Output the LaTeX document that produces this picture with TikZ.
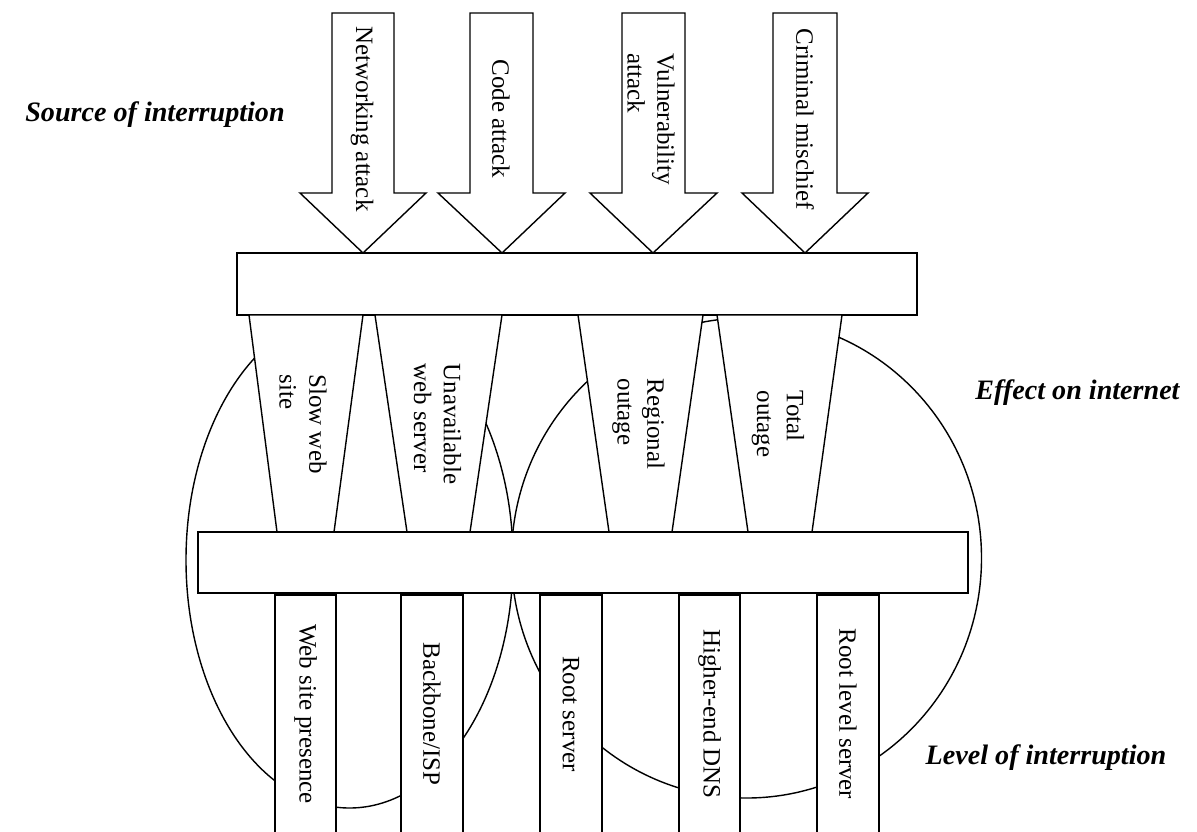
\documentclass[tikz,border=0pt]{standalone}
\usepackage{fontspec}
\setmainfont{Liberation Serif}
\tikzset{
  block/.style={draw, fill=white, line width=0.8pt},
  vtext/.style={rotate=-90, align=left, inner sep=0pt, font=\fontsize{14.2}{17}\selectfont},
  tag/.style={font=\fontsize{16}{19}\selectfont\bfseries\itshape},
}
\begin{document}
\begin{tikzpicture}
  \useasboundingbox (0,0) rectangle (23.94,-16.62);
  \clip (0,0) rectangle (23.94,-16.62);

  % the two areas behind everything
  \draw[line width=0.8pt] (6.99,-11.2) ellipse (3.27 and 4.96);
  \draw[line width=0.8pt] (14.93,-11.16) ellipse (4.70 and 4.80);

  % sources
  \draw[block] (6.64,-0.26) -- (7.88,-0.26) -- (7.88,-3.86) -- (8.52,-3.86) -- (7.26,-5.06) -- (6.00,-3.86) -- (6.64,-3.86) -- cycle;
  \node[vtext] (net) at (7.24,-2.38) {Networking attack};
  \draw[block] (9.40,-0.26) -- (10.66,-0.26) -- (10.66,-3.86) -- (11.30,-3.86) -- (10.04,-5.06) -- (8.76,-3.86) -- (9.40,-3.86) -- cycle;
  \node[vtext] (code) at (10.02,-2.38) {Code attack};
  \draw[block] (12.44,-0.26) -- (13.70,-0.26) -- (13.70,-3.86) -- (14.34,-3.86) -- (13.06,-5.06) -- (11.80,-3.86) -- (12.44,-3.86) -- cycle;
  \node[vtext] (vuln) at (13.02,-2.38) {Vulnerability\\attack};
  \draw[block] (15.46,-0.26) -- (16.74,-0.26) -- (16.74,-3.86) -- (17.36,-3.86) -- (16.10,-5.06) -- (14.84,-3.86) -- (15.46,-3.86) -- cycle;
  \node[vtext] (crim) at (16.10,-2.38) {Criminal mischief};

  \draw[block] (4.74,-5.06) rectangle (18.34,-6.30);

  % effects
  \draw[block] (4.98,-6.30) -- (7.26,-6.30) -- (6.68,-10.64) -- (5.54,-10.64) -- cycle;
  \node[vtext] (slow) at (6.06,-8.48) {Slow web\\site};
  \draw[block] (7.50,-6.30) -- (10.04,-6.30) -- (9.40,-10.64) -- (8.14,-10.64) -- cycle;
  \node[vtext] (unav) at (8.75,-8.48) {Unavailable\\web server};
  \draw[block] (11.56,-6.30) -- (14.06,-6.30) -- (13.44,-10.64) -- (12.18,-10.64) -- cycle;
  \node[vtext] (region) at (12.77,-8.48) {Regional\\outage};
  \draw[block] (14.34,-6.30) -- (16.84,-6.30) -- (16.24,-10.64) -- (14.96,-10.64) -- cycle;
  \node[vtext] (total) at (15.56,-8.48) {Total\\outage};

  \draw[block] (3.96,-10.64) rectangle (19.36,-11.86);

  % levels
  \draw[block] (5.50,-17.0) rectangle (6.72,-11.90);
  \node[vtext] (presence) at (6.11,-14.28) {Web site presence};
  \draw[block] (8.02,-17.0) rectangle (9.26,-11.90);
  \node[vtext] (backbone) at (8.64,-14.28) {Backbone/ISP};
  \draw[block] (10.80,-17.0) rectangle (12.04,-11.90);
  \node[vtext] (root) at (11.42,-14.28) {Root server};
  \draw[block] (13.58,-17.0) rectangle (14.80,-11.90);
  \node[vtext] (dns) at (14.19,-14.28) {Higher-end DNS};
  \draw[block] (16.34,-17.0) rectangle (17.58,-11.90);
  \node[vtext] (rootlvl) at (16.96,-14.28) {Root level server};

  \node[tag] (source) at (3.10,-2.30) {Source of interruption};
  \node[tag] (effect) at (21.55,-7.86) {Effect on internet};
  \node[tag] (level) at (20.92,-15.16) {Level of interruption};

\end{tikzpicture}
\end{document}
